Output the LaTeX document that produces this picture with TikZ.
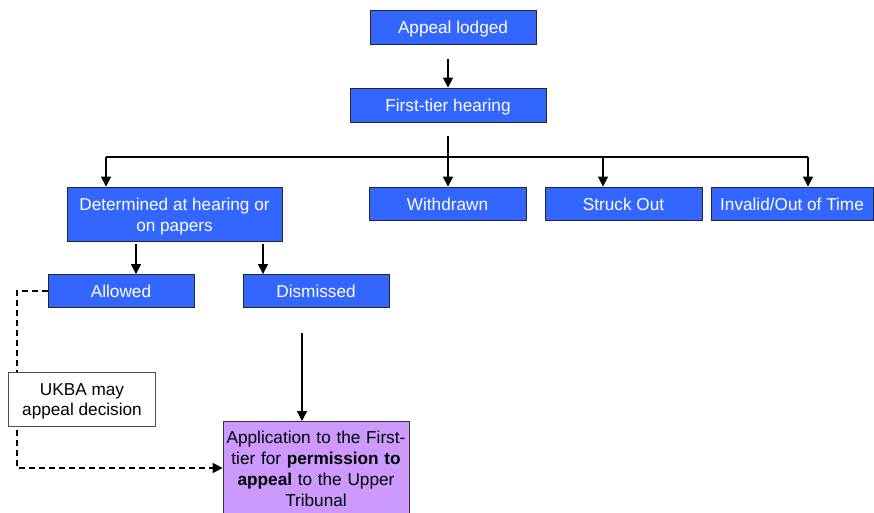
\documentclass[tikz,border=0pt]{standalone}
\usepackage{fontspec}
\setmainfont{Liberation Sans}
\usetikzlibrary{arrows.meta}
\definecolor{boxblue}{HTML}{3366FF}
\definecolor{boxpurple}{HTML}{CC99FF}
\begin{document}
\begin{tikzpicture}[x=1pt,y=-1pt,
  txt/.style={font=\fontsize{17.2}{21}\selectfont,align=center,inner sep=0pt},
  oneline/.style={text height=13pt,text depth=0pt},
  twoline/.style={text height=34pt,text depth=0pt},
  bluebox/.style={txt,draw=black!85,line width=0.8pt,fill=boxblue,text=white},
  arr/.style={-{Triangle[width=10pt,length=10pt]},line width=1.3pt},
  dasharr/.style={arr,dash pattern=on 6pt off 4pt}
]
\useasboundingbox (0,0) rectangle (874,513);
% nodes
\node[bluebox,oneline,minimum width=166pt,minimum height=34pt] (appeal) at (453,27) {Appeal lodged};
\node[bluebox,oneline,minimum width=196pt,minimum height=34pt] (first) at (448,105) {First-tier hearing};
\node[bluebox,twoline,minimum width=215pt,minimum height=54pt] (det) at (174.5,214) {Determined at hearing or\\on papers};
\node[bluebox,oneline,minimum width=157pt,minimum height=33pt] (withdrawn) at (447.5,203.5) {Withdrawn};
\node[bluebox,oneline,minimum width=157pt,minimum height=33pt] (struck) at (623.5,203.5) {Struck Out};
\node[bluebox,oneline,minimum width=162pt,minimum height=33pt] (invalid) at (792,203.5) {Invalid/Out of Time};
\node[bluebox,oneline,minimum width=146pt,minimum height=33pt] (allowed) at (121,291) {Allowed};
\node[bluebox,oneline,minimum width=146pt,minimum height=33pt] (dismissed) at (316,291) {Dismissed};
\node[txt,draw=black!80,line width=0.8pt,fill=boxpurple,text=black,anchor=north,
      minimum width=186pt,text width=180pt,inner ysep=10pt] (app) at (316,421)
  {Application to the First-\\tier for \textbf{permission to}\\\textbf{appeal} to the Upper\\Tribunal};
% coordinates
\coordinate (busL) at (106,157);
\coordinate (busS) at (603,157);
\coordinate (busR) at (808,157);
\coordinate (da) at (136,244);
\coordinate (dd) at (263,244);
\coordinate (dp) at (302,333);
\coordinate (dk) at (17,468);
% connectors
\draw[arr] ([yshift=-15pt]appeal.south -| first.north) -- (first.north);
\draw[line width=1.3pt] (busL) -- (busR);
\draw[arr] ([yshift=-14pt]first.south) -- (first.south |- withdrawn.north);
\draw[arr] (busL) -- (busL |- det.north);
\draw[arr] (busS) -- (busS |- struck.north);
\draw[arr] (busR) -- (busR |- invalid.north);
\draw[arr] (da) -- (da |- allowed.north);
\draw[arr] (dd) -- (dd |- dismissed.north);
\draw[arr] (dp) -- (dp |- app.north);
\draw[dasharr] (allowed.west) -| (dk) -- (dk -| app.west);
\node[txt,text height=33pt,text depth=0pt,draw=black!70,line width=0.8pt,fill=white,text=black,
      font=\fontsize{17.2}{20}\selectfont,
      minimum width=147pt,minimum height=54pt] (ukba) at (82,399) {UKBA may\\appeal decision};
\end{tikzpicture}
\end{document}
